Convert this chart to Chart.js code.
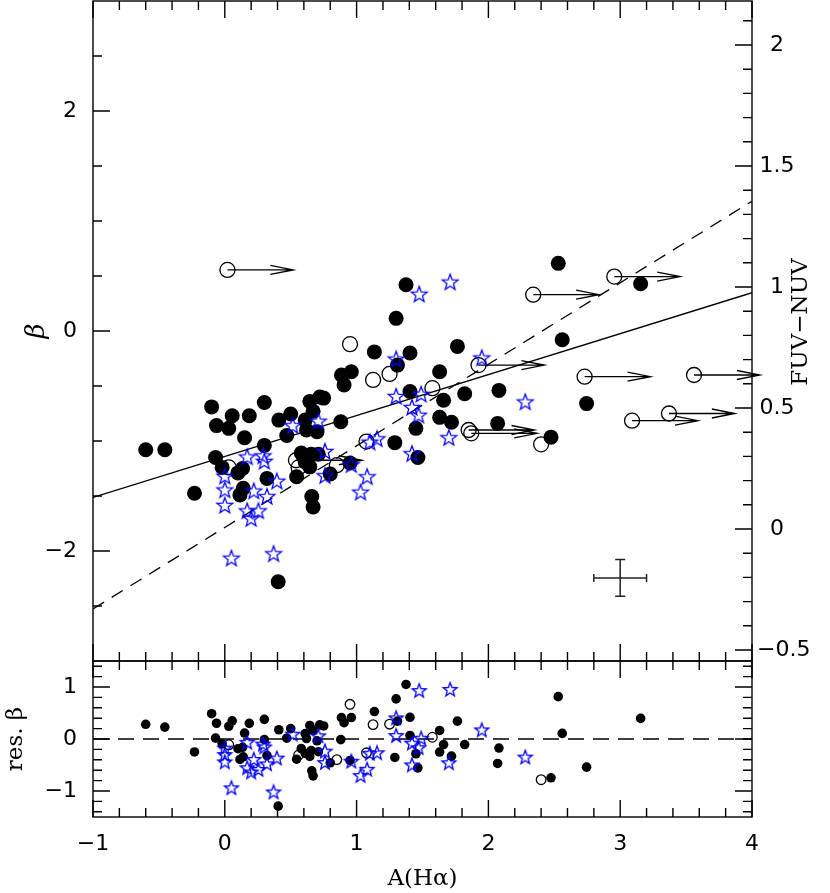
<!DOCTYPE html>
<html>
<head>
<meta charset="utf-8">
<script src="https://cdn.jsdelivr.net/npm/chart.js@4.4.1/dist/chart.umd.min.js"></script>
<style>
  body { margin: 0; background: #fff; }
  #wrap { position: relative; width: 830px; height: 893px; }
  #wrap canvas { position: absolute; left: 0; top: 0; }
</style>
</head>
<body>
<div id="wrap">
  <canvas id="main" width="830" height="893"></canvas>
  <canvas id="resid" width="830" height="893"></canvas>
</div>
<script>
// tick labels
const xTicks = [-1, 0, 1, 2, 3, 4];
const betaTicks = [-2, 0, 2];
const fuvTicks = [-0.5, 0, 0.5, 1, 1.5, 2];
const resTicks = [-1, 0, 1];

// filled circles: A(Halpha), beta, residual beta
const filledX = [-0.60, -0.455, -0.23, -0.10, -0.063, -0.07, -0.02, 0.03, 0.056, 0.10, 0.135, 0.14, 0.115, 0.15, 0.186,
  0.30, 0.30, 0.32, 0.41, 0.405, 0.47, 0.50, 0.545, 0.58, 0.655, 0.71, 0.61, 0.645, 0.66, 0.67, 0.61, 0.645, 0.72, 0.75,
  0.67, 0.62, 0.70, 0.80, 0.88, 0.885, 0.96, 0.905, 0.95, 1.135, 1.29, 1.30, 1.31, 1.375, 1.405, 1.405, 1.45, 1.465,
  1.63, 1.66, 1.63, 1.72, 1.765, 1.82, 2.08, 2.07, 2.475, 2.53, 2.56, 2.745, 3.155];
const filledBeta = [-1.08, -1.08, -1.475, -0.69, -0.86, -1.15, -1.24, -0.885, -0.77, -1.29, -1.25, -1.43, -1.49, -0.97, -0.77,
  -0.65, -1.04, -1.34, -0.81, -2.28, -0.95, -0.755, -1.325, -1.11, -1.12, -1.12, -1.19, -1.235, -1.505, -1.60, -0.81, -0.64, -0.60, -0.61,
  -0.73, -0.90, -0.915, -1.30, -0.825, -0.40, -0.37, -0.49, -1.20, -0.19, -1.015, 0.115, -0.31, 0.42, -0.20, -0.55, -0.885, -1.15,
  -0.37, -0.63, -0.785, -0.83, -0.14, -0.57, -0.54, -0.84, -0.965, 0.615, -0.08, -0.66, 0.43];
const filledRes = [0.283, 0.229, -0.249, 0.487, 0.303, 0.016, -0.093, 0.244, 0.349, -0.187, -0.160, -0.342, -0.393, 0.114, 0.301,
  0.378, -0.012, -0.319, 0.178, -1.291, 0.015, 0.199, -0.388, -0.186, -0.224, -0.244, -0.277, -0.335, -0.611, -0.709, 0.103, 0.260, 0.272, 0.251,
  0.161, 0.009, -0.035, -0.458, -0.012, 0.411, 0.413, 0.313, -0.413, 0.528, -0.355, 0.771, 0.343, 1.049, 0.417, 0.067, -0.284, -0.555,
  0.164, -0.108, -0.251, -0.330, 0.343, -0.107, -0.174, -0.470, -0.746, 0.814, 0.108, -0.541, 0.396];

// blue stars
const starX = [0.515, 0.71, 0.17, 0.29, 0.30, 0.0, 0.0, 0.0, 0.22, 0.32, 0.395, 0.17, 0.255, 0.20, 0.05, 0.37, 0.76,
  0.96, 0.76, 1.08, 1.03, 1.10, 1.155, 1.30, 1.30, 1.42, 1.47, 1.49, 1.42, 1.475, 1.71, 1.70, 1.95, 2.28];
const starBeta = [-0.865, -0.825, -1.15, -1.14, -1.19, -1.325, -1.45, -1.59, -1.46, -1.51, -1.37, -1.64, -1.64, -1.71, -2.07, -2.03, -1.10,
  -1.22, -1.32, -1.33, -1.47, -1.015, -0.985, -0.26, -0.60, -0.70, -0.77, -0.58, -1.12, 0.33, 0.44, -0.975, -0.25, -0.65];
const starRes = [0.083, 0.051, -0.073, -0.108, -0.162, -0.185, -0.31, -0.45, -0.402, -0.489, -0.377, -0.563, -0.595, -0.644, -0.949, -1.028, -0.243,
  -0.437, -0.463, -0.592, -0.713, -0.284, -0.275, 0.396, 0.056, -0.088, -0.177, 0.006, -0.508, 0.921, 0.944, -0.467, 0.165, -0.358];

// open circles
const openX = [0.03, 0.56, 0.85, 0.95, 1.075, 1.125, 1.25, 1.575, 2.40];
const openBeta = [-1.24, -1.24, -1.22, -0.12, -1.005, -0.445, -0.39, -0.52, -1.03];
const openRes = [-0.111, -0.308, -0.396, 0.667, -0.265, 0.277, 0.285, 0.034, -0.783];

// open circles with lower-limit arrows
const limX = [0.02, 0.54, 1.85, 1.87, 1.925, 2.34, 2.73, 2.955, 3.09, 3.37, 3.56];
const limBeta = [0.555, -1.175, -0.90, -0.93, -0.31, 0.33, -0.415, 0.495, -0.815, -0.75, -0.40];

// fits
const fitX = [-1, 4];
const fitSolid = [-1.512, 0.348];
const fitDashed = [-2.527, 1.18];
const zeroRes = [0, 0];

// typical error bar
const errX = [3.0];
const errY = [-2.245];
const errDx = [0.2];
const errDy = [0.167];

const ARROW_LEN = 0.5;
const numFont = { family: "'DejaVu Sans', sans-serif", size: 22 };
const txtFont = "'DejaVu Serif', serif";
const minus = v => (v < 0 ? '\u2212' + Math.abs(v) : '' + v);
const pts = (xs, ys) => xs.map((x, i) => ({ x: x, y: ys[i] }));

function starImg(R, lw) {
  const size = Math.ceil(2 * R + 2 * lw + 2);
  const c = document.createElement('canvas');
  c.width = size; c.height = size;
  const g = c.getContext('2d');
  g.beginPath();
  for (let i = 0; i < 10; i++) {
    const a = -Math.PI / 2 + i * Math.PI / 5;
    const rr = i % 2 ? R * 0.42 : R;
    g.lineTo(size / 2 + rr * Math.cos(a), size / 2 + rr * Math.sin(a));
  }
  g.closePath();
  g.strokeStyle = '#0000ff';
  g.lineWidth = lw;
  g.stroke();
  return c;
}

const fixW = w => s => { s.width = w; s.paddingTop = 0; s.paddingBottom = 0; s.paddingLeft = 0; s.paddingRight = 0; };
const fixH = h => s => { s.height = h; s.paddingTop = 0; s.paddingBottom = 0; s.paddingLeft = 0; s.paddingRight = 0; };
const setTicks = arr => s => { s.ticks = arr.map(v => ({ value: v })); };

// frame + inward ticks on all four sides
function makeFrame(sides) {
  return {
    id: 'frame',
    afterDraw(chart) {
      const { ctx, chartArea: a, scales } = chart;
      ctx.save();
      ctx.strokeStyle = '#000';
      ctx.lineWidth = 1.4;
      ctx.beginPath();
      const seg = (x0, y0, x1, y1) => { ctx.moveTo(x0, y0); ctx.lineTo(x1, y1); };
      for (let k = -5; k <= 20; k++) {
        const px = scales.x.getPixelForValue(k / 5);
        const len = k % 5 === 0 ? 17 : 9;
        seg(px, a.top, px, a.top + len);
        seg(px, a.bottom, px, a.bottom - len);
      }
      sides.forEach(sd => {
        const s = scales[sd.scale];
        for (let k = sd.from; k <= sd.to; k++) {
          const py = s.getPixelForValue(k * sd.step);
          if (py < a.top + 1 || py > a.bottom - 1) continue;
          const len = k % sd.major === 0 ? 17 : 9;
          if (sd.side === 'left') seg(a.left, py, a.left + len, py);
          else seg(a.right, py, a.right - len, py);
        }
      });
      ctx.stroke();
      ctx.strokeRect(a.left, a.top, a.right - a.left, a.bottom - a.top);
      ctx.restore();
    }
  };
}

// arrows, error bar and right-hand axis of the main panel
const extras = {
  id: 'extras',
  beforeDatasetsDraw(chart) {
    const { ctx, scales: { x, y } } = chart;
    ctx.save();
    ctx.strokeStyle = '#000';
    ctx.lineWidth = 1.3;
    limX.forEach((v, i) => {
      const x0 = x.getPixelForValue(v);
      const x1 = x.getPixelForValue(v + ARROW_LEN);
      const py = y.getPixelForValue(limBeta[i]);
      ctx.beginPath();
      ctx.moveTo(x0, py); ctx.lineTo(x1, py);
      ctx.moveTo(x1 - 23, py - 4.5); ctx.lineTo(x1, py); ctx.lineTo(x1 - 23, py + 4.5);
      ctx.stroke();
    });
    ctx.strokeStyle = '#222';
    ctx.lineWidth = 1.5;
    errX.forEach((v, i) => {
      const cx = x.getPixelForValue(v), cy = y.getPixelForValue(errY[i]);
      const xl = x.getPixelForValue(v - errDx[i]), xr = x.getPixelForValue(v + errDx[i]);
      const yt = y.getPixelForValue(errY[i] + errDy[i]), yb = y.getPixelForValue(errY[i] - errDy[i]);
      ctx.beginPath();
      ctx.moveTo(xl, cy); ctx.lineTo(xr, cy);
      ctx.moveTo(xl, cy - 4); ctx.lineTo(xl, cy + 4);
      ctx.moveTo(xr, cy - 4); ctx.lineTo(xr, cy + 4);
      ctx.moveTo(cx, yt); ctx.lineTo(cx, yb);
      ctx.moveTo(cx - 5, yt); ctx.lineTo(cx + 5, yt);
      ctx.moveTo(cx - 5, yb); ctx.lineTo(cx + 5, yb);
      ctx.stroke();
    });
    ctx.restore();
  },
  afterDraw(chart) {
    const { ctx, chartArea: a, scales } = chart;
    const s = scales.y2;
    ctx.save();
    ctx.fillStyle = '#000';
    ctx.font = numFont.size + 'px ' + numFont.family;
    ctx.textBaseline = 'middle';
    fuvTicks.forEach(v => {
      const py = s.getPixelForValue(v);
      if (v < 0) { ctx.textAlign = 'left'; ctx.fillText(minus(v), a.right + 5, py); }
      else { ctx.textAlign = 'center'; ctx.fillText(minus(v), a.right + 25, py); }
    });
    ctx.translate(801, 322);
    ctx.rotate(-Math.PI / 2);
    ctx.textAlign = 'center';
    ctx.font = '23px ' + txtFont;
    ctx.fillText('FUV\u2212NUV', 0, 0);
    ctx.restore();
  }
};

const starBig = starImg(8.3, 1.3);
const starSmall = starImg(7.3, 1.3);
const noLegend = { legend: { display: false }, tooltip: { enabled: false } };

new Chart(document.getElementById('main'), {
  type: 'scatter',
  data: {
    datasets: [
      { data: pts(starX, starBeta), pointStyle: starBig, pointRadius: 9, order: 0 },
      { data: pts(openX, openBeta), pointRadius: 7.5, backgroundColor: 'rgba(0,0,0,0)', borderColor: '#000', borderWidth: 1.3, order: 1 },
      { data: pts(limX, limBeta), pointRadius: 7.5, backgroundColor: 'rgba(0,0,0,0)', borderColor: '#000', borderWidth: 1.3, order: 1 },
      { data: pts(filledX, filledBeta), pointRadius: 7.5, backgroundColor: '#000', borderColor: '#000', borderWidth: 0, order: 2 },
      { data: pts(fitX, fitSolid), showLine: true, pointRadius: 0, borderColor: '#000', borderWidth: 1.3, order: 3 },
      { data: pts(fitX, fitDashed), showLine: true, pointRadius: 0, borderColor: '#000', borderWidth: 1.3, borderDash: [13, 9], order: 3 }
    ]
  },
  options: {
    responsive: false,
    animation: false,
    events: [],
    layout: { autoPadding: false, padding: { left: 0, right: 78, top: 1, bottom: 232 } },
    plugins: noLegend,
    scales: {
      x: { type: 'linear', display: false, min: -1, max: 4 },
      y: {
        type: 'linear', position: 'left', min: -3, max: 3,
        afterBuildTicks: setTicks(betaTicks), afterFit: fixW(93),
        grid: { display: false, drawTicks: false }, border: { display: false },
        ticks: { padding: 16, font: numFont, color: '#000', callback: v => minus(v) },
        title: { display: true, text: '\u03b2', color: '#000', font: { family: txtFont, size: 26, style: 'italic' }, padding: { top: 22, bottom: 0 } }
      },
      y2: { type: 'linear', position: 'right', display: false, min: -0.5455, max: 2.1818 }
    }
  },
  plugins: [makeFrame([
    { scale: 'y', side: 'left', from: -6, to: 6, step: 0.5, major: 4 },
    { scale: 'y2', side: 'right', from: -5, to: 21, step: 0.1, major: 5 }
  ]), extras]
});

new Chart(document.getElementById('resid'), {
  type: 'scatter',
  data: {
    datasets: [
      { data: pts(starX, starRes), pointStyle: starSmall, pointRadius: 8, order: 0 },
      { data: pts(openX, openRes), pointRadius: 4.8, backgroundColor: 'rgba(0,0,0,0)', borderColor: '#000', borderWidth: 1.3, order: 1 },
      { data: pts(filledX, filledRes), pointRadius: 4.8, backgroundColor: '#000', borderColor: '#000', borderWidth: 0, order: 2 },
      { data: pts(fitX, zeroRes), showLine: true, pointRadius: 0, borderColor: '#000', borderWidth: 1.3, borderDash: [16, 9], order: 3 }
    ]
  },
  options: {
    responsive: false,
    animation: false,
    events: [],
    layout: { autoPadding: false, padding: { left: 0, right: 78, top: 661, bottom: 0 } },
    plugins: noLegend,
    scales: {
      x: {
        type: 'linear', position: 'bottom', min: -1, max: 4,
        afterBuildTicks: setTicks(xTicks), afterFit: fixH(76),
        grid: { display: false, drawTicks: false }, border: { display: false },
        ticks: { padding: 14, font: numFont, color: '#000', autoSkip: false, maxRotation: 0, minRotation: 0, callback: v => minus(v) },
        title: { display: true, text: 'A(H\u03b1)', color: '#000', font: { family: txtFont, size: 23 }, padding: { top: 0, bottom: 0 } }
      },
      y: {
        type: 'linear', position: 'left', min: -1.5, max: 1.5,
        afterBuildTicks: setTicks(resTicks), afterFit: fixW(93),
        grid: { display: false, drawTicks: false }, border: { display: false },
        ticks: { padding: 16, font: numFont, color: '#000', callback: v => minus(v) },
        title: { display: true, text: 'res. \u03b2', color: '#000', font: { family: txtFont, size: 23 }, padding: { top: 2, bottom: 0 } }
      }
    }
  },
  plugins: [makeFrame([
    { scale: 'y', side: 'left', from: -7, to: 7, step: 0.2, major: 5 },
    { scale: 'y', side: 'right', from: -7, to: 7, step: 0.2, major: 5 }
  ])]
});
</script>
</body>
</html>
